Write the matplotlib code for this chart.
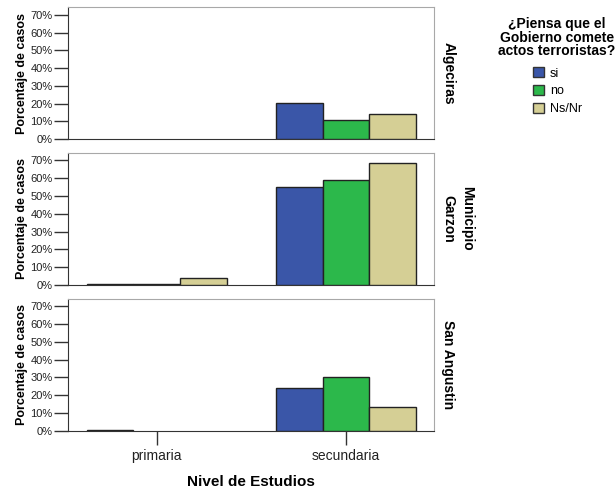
import numpy as np
import matplotlib.pyplot as plt
from matplotlib.patches import Patch

plt.rcParams['font.family'] = ['Liberation Sans', 'DejaVu Sans']

niveles = ['primaria', 'secundaria']
respuestas = ['si', 'no', 'Ns/Nr']
colores = ['#3A56A8', '#2CB84B', '#D5CF95']
municipios = ['Algeciras', 'Garzon', 'San Angustin']

# porcentaje de casos por municipio: filas = respuesta, columnas = nivel
algeciras = [[0.0, 20.1], [0.0, 10.8], [0.0, 14.3]]
garzon = [[0.8, 54.9], [0.3, 58.8], [4.1, 68.5]]
san_angustin = [[0.4, 23.8], [0.0, 30.1], [0.0, 13.2]]
datos = [algeciras, garzon, san_angustin]

W, H = 616, 493
fig = plt.figure(figsize=(W / 100, H / 100), dpi=100)

left, right = 68 / W, 434 / W
tops = [7.3, 152.7, 299.0]
bottoms = [139.0, 285.0, 430.7]
x = np.arange(len(niveles))
ancho = 0.2466

for i, (mun, vals) in enumerate(zip(municipios, datos)):
    ax = fig.add_axes([left, 1 - bottoms[i] / H, right - left, (bottoms[i] - tops[i]) / H])
    for j, resp in enumerate(respuestas):
        v = np.array(vals[j])
        mask = v > 0  # sin casos: no se dibuja barra
        ax.bar(x[mask] + (j - 1) * ancho, v[mask], width=ancho, color=colores[j],
               edgecolor='#222222', linewidth=1.0, zorder=3)
    ax.set_xlim(-0.469, 1.465)
    ax.set_ylim(0, 74.2)
    ax.set_yticks(range(0, 80, 10))
    ax.set_yticklabels([f'{v}%' for v in range(0, 80, 10)], fontsize=8, color='#222222')
    ax.tick_params(axis='y', length=10, width=1, color='#333333', pad=1)
    ax.set_ylabel('Porcentaje de casos', fontsize=9, fontweight='bold', labelpad=2)
    for s in ['top', 'right']:
        ax.spines[s].set_color('#a8a8a8')
    for s in ['left', 'bottom']:
        ax.spines[s].set_color('#333333')
    ax.text(1.02, 0.5, mun, transform=ax.transAxes, rotation=-90, ha='left',
            va='center', fontsize=10, fontweight='bold')
    if i < 2:
        ax.set_xticks([])
    else:
        ax.set_xticks(x)
        ax.set_xticklabels(niveles, fontsize=10, color='#222222')
        ax.tick_params(axis='x', length=10, width=1, color='#333333', pad=3)
        ax.set_xlabel('Nivel de Estudios', fontsize=11, fontweight='bold', labelpad=9)

fig.text(467 / W, 1 - 218 / H, 'Municipio', rotation=-90, ha='center', va='center',
         fontsize=10, fontweight='bold')

handles = [Patch(facecolor=c, edgecolor='#333333', label=r) for c, r in zip(colores, respuestas)]
fig.text(557 / W, 1 - 17 / H, '¿Piensa que el\nGobierno comete\nactos terroristas?',
         ha='center', va='top', fontsize=10, fontweight='bold', linespacing=0.97)
fig.legend(handles=handles, loc='upper left', bbox_to_anchor=(527 / W, 1 - 61 / H),
           frameon=False, fontsize=9, handlelength=0.85, handleheight=0.85,
           handletextpad=0.5, labelspacing=0.45, borderpad=0)

fig.savefig('out.png', dpi=100)
